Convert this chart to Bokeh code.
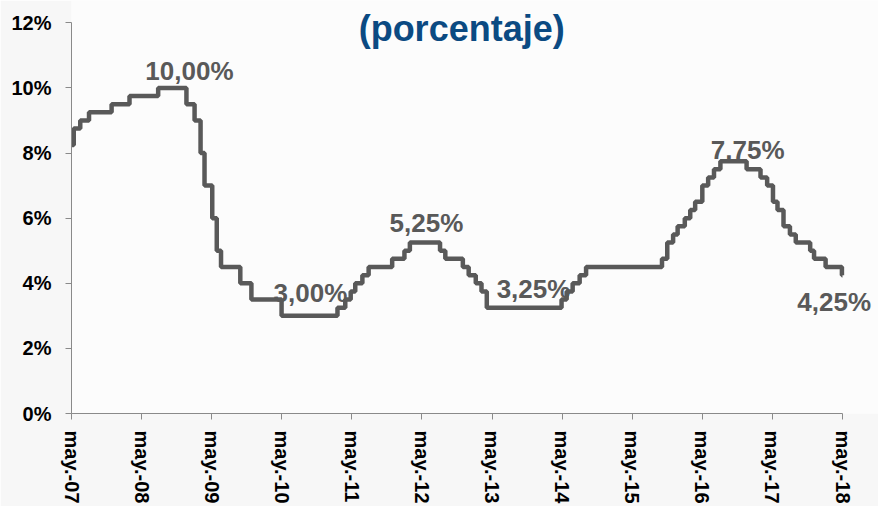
import pandas as pd
from bokeh.plotting import figure
from bokeh.models import Label, FixedTicker, PrintfTickFormatter, Range1d, CustomJSTickFormatter
from bokeh.embed import file_html
from bokeh.resources import INLINE

# ---- data: policy rate (%), step changes (date of change, new level) ----
change_dates = [
    "2007-05-01", "2007-05-13", "2007-06-16", "2007-08-01", "2007-11-27",
    "2008-02-28", "2008-07-27", "2008-12-22", "2009-02-03", "2009-03-04",
    "2009-03-25", "2009-05-04", "2009-05-28", "2009-06-19", "2009-09-28",
    "2009-11-25", "2010-04-30", "2011-02-16", "2011-03-28", "2011-04-25",
    "2011-05-19", "2011-06-25", "2011-07-28", "2011-11-28", "2012-02-01",
    "2012-02-28", "2012-08-04", "2012-09-01", "2012-12-01", "2013-01-01",
    "2013-02-07", "2013-03-07", "2013-04-04", "2014-04-28", "2014-05-25",
    "2014-06-25", "2014-08-01", "2014-09-04", "2015-10-04", "2015-11-01",
    "2015-12-01", "2015-12-25", "2016-02-01", "2016-02-28", "2016-03-25",
    "2016-05-01", "2016-06-01", "2016-07-01", "2016-08-04", "2016-12-19",
    "2017-02-28", "2017-04-04", "2017-05-04", "2017-05-28", "2017-06-28",
    "2017-08-01", "2017-09-01", "2017-11-15", "2017-12-05", "2018-02-04",
    "2018-04-28", "2018-05-01",
]
rates = [
    8.25, 8.75, 9.00, 9.25, 9.50,
    9.75, 10.00, 9.50, 9.00, 8.00,
    7.00, 6.00, 5.00, 4.50, 4.00,
    3.50, 3.00, 3.25, 3.50, 3.75,
    4.00, 4.25, 4.50, 4.75, 5.00,
    5.25, 5.00, 4.75, 4.50, 4.25,
    4.00, 3.75, 3.25, 3.50, 3.75,
    4.00, 4.25, 4.50, 4.75, 5.25,
    5.50, 5.75, 6.00, 6.25, 6.50,
    7.00, 7.25, 7.50, 7.75, 7.50,
    7.25, 7.00, 6.50, 6.25, 5.75,
    5.50, 5.25, 5.00, 4.75, 4.50,
    4.25, 4.25,
]

tick_dates = ["2007-05-01", "2008-05-01", "2009-05-01", "2010-05-01", "2011-05-01",
              "2012-05-01", "2013-05-01", "2014-05-01", "2015-05-01", "2016-05-01",
              "2017-05-01", "2018-05-01"]
tick_labels = ["may.-07", "may.-08", "may.-09", "may.-10", "may.-11", "may.-12",
               "may.-13", "may.-14", "may.-15", "may.-16", "may.-17", "may.-18"]
y_ticks = [0, 2, 4, 6, 8, 10, 12]

title_text = "(porcentaje)"
ann_texts = ["10,00%", "3,00%", "5,25%", "3,25%", "7,75%", "4,25%"]
ann_dates = ["2009-01-07", "2010-09-28", "2012-05-25", "2013-12-04", "2016-12-25", "2018-03-19"]
ann_levels = [10.52, 3.69, 5.85, 3.81, 8.08, 3.43]

START = pd.Timestamp(tick_dates[0])


def month_pos(d):
    t = pd.Timestamp(d)
    return (t.year - START.year) * 12 + (t.month - START.month) + (t.day - 1) / t.days_in_month


xs = [month_pos(d) for d in change_dates]
tick_pos = [int(round(month_pos(d))) for d in tick_dates]

FONT = "Liberation Sans"
LINE_COLOR = "#595959"

# ---- layout (pixels) ----
W, H = 878, 506
LEFT, BOTTOM = 71, 93          # borders holding the axes
AXIS_RIGHT, AXIS_TOP = 842, 22.3  # where the axis lines end (canvas px)
frame_w, frame_h = W - LEFT, H - BOTTOM
x_end = tick_pos[-1] * frame_w / (AXIS_RIGHT - LEFT)
y_end = y_ticks[-1] * frame_h / (frame_h - AXIS_TOP)

p = figure(width=W, height=H, output_backend="svg", toolbar_location=None,
           x_range=Range1d(tick_pos[0], x_end), y_range=Range1d(y_ticks[0], y_end),
           min_border_left=LEFT, min_border_right=0, min_border_top=0, min_border_bottom=BOTTOM)
p.background_fill_color = "#fcfcfc"
p.border_fill_color = "#f7f7f7"
p.outline_line_color = None
p.grid.visible = False

p.step(xs, rates, mode="after", line_width=4.5, line_color=LINE_COLOR)

# y axis
p.yaxis.ticker = FixedTicker(ticks=y_ticks)
p.yaxis.formatter = PrintfTickFormatter(format="%d%%")
p.yaxis.bounds = (y_ticks[0], y_ticks[-1])
# x axis
p.xaxis.ticker = FixedTicker(ticks=tick_pos)
p.xaxis.formatter = CustomJSTickFormatter(args=dict(pos=tick_pos, labels=tick_labels), code="""
    const i = pos.indexOf(Math.round(tick));
    return i >= 0 ? labels[i] : "";
""")
p.xaxis.bounds = (tick_pos[0], tick_pos[-1])
p.xaxis.major_label_orientation = "vertical"

for ax in (p.xaxis, p.yaxis):
    ax.axis_line_color = "#8a8a8a"
    ax.axis_line_width = 1
    ax.major_tick_line_color = "#8a8a8a"
    ax.major_tick_out = 6
    ax.major_tick_in = 0
    ax.minor_tick_line_color = None
    ax.major_label_text_font = FONT
    ax.major_label_text_font_style = "bold"
    ax.major_label_text_font_size = "20px"
    ax.major_label_text_color = "#000000"
p.yaxis.major_label_standoff = 14
p.xaxis.major_label_standoff = 11

for txt, d, lvl in zip(ann_texts, ann_dates, ann_levels):
    p.add_layout(Label(x=month_pos(d), y=lvl, text=txt, text_align="center",
                       text_baseline="alphabetic", text_font=FONT, text_font_style="bold",
                       text_font_size="26px", text_color=LINE_COLOR))

p.add_layout(Label(x=66.8, y=11.83, text=title_text, text_align="center",
                   text_baseline="alphabetic", text_font=FONT, text_font_style="bold",
                   text_font_size="36px", text_color="#0b4a82"))

open("out.html", "w").write(file_html(p, INLINE))
